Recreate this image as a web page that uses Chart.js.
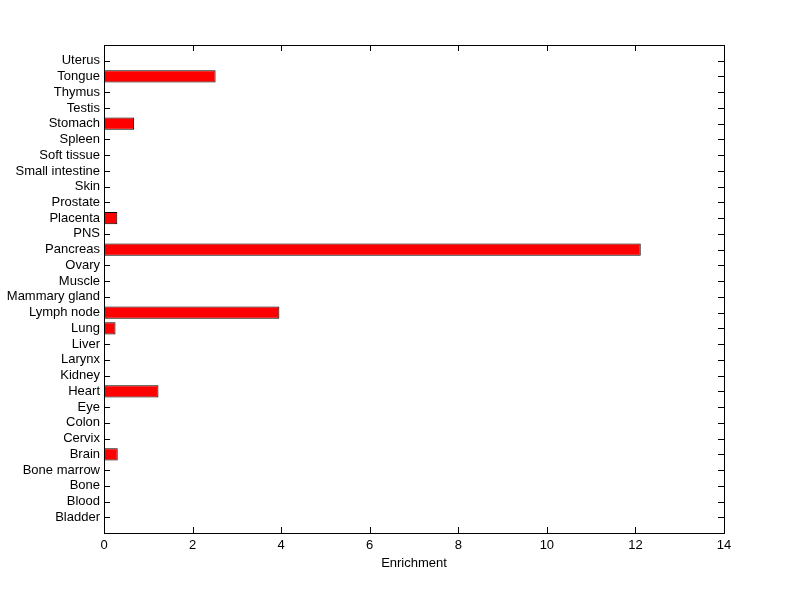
<!DOCTYPE html>
<html>
<head>
<meta charset="utf-8">
<script src="https://cdn.jsdelivr.net/npm/chart.js@4/dist/chart.umd.min.js"></script>
<style>
  html, body { margin: 0; padding: 0; background: #fff; }
  #wrap { width: 800px; height: 599px; position: relative; }
</style>
</head>
<body>
<div id="wrap"><canvas id="enrichChart"></canvas></div>
<script>
// Tissues, listed bottom to top as on the chart
const tissues = ['Bladder', 'Blood', 'Bone', 'Bone marrow', 'Brain', 'Cervix', 'Colon', 'Eye',
  'Heart', 'Kidney', 'Larynx', 'Liver', 'Lung', 'Lymph node', 'Mammary gland', 'Muscle',
  'Ovary', 'Pancreas', 'PNS', 'Placenta', 'Prostate', 'Skin', 'Small intestine',
  'Soft tissue', 'Spleen', 'Stomach', 'Testis', 'Thymus', 'Tongue', 'Uterus'];
const enrichment = [0, 0, 0, 0, 0.31, 0, 0, 0,
  1.23, 0, 0, 0, 0.26, 3.96, 0, 0,
  0, 12.12, 0, 0.30, 0, 0, 0,
  0, 0, 0.68, 0, 0, 2.52, 0];
const xTicks = [0, 2, 4, 6, 8, 10, 12, 14];

const fontFamily = "'Liberation Sans', Arial, Helvetica, sans-serif";

// MATLAB-style inward ticks (behind the bars) and axes box (on top)
const boxTicks = {
  id: 'boxTicks',
  beforeDatasetsDraw(chart) {
    const ctx = chart.ctx;
    const a = chart.chartArea;
    const xs = chart.scales.x;
    const ys = chart.scales.y;
    const len = 6;
    ctx.save();
    ctx.strokeStyle = '#000';
    ctx.lineWidth = 1;
    ctx.beginPath();
    xs.ticks.forEach(t => {
      const px = Math.round(xs.getPixelForValue(t.value)) + 0.5;
      ctx.moveTo(px, a.bottom); ctx.lineTo(px, a.bottom - len);
      ctx.moveTo(px, a.top); ctx.lineTo(px, a.top + len);
    });
    ys.ticks.forEach(t => {
      if (t.value < 1 || t.value > tissues.length) return;
      const py = Math.round(ys.getPixelForValue(t.value)) + 0.5;
      ctx.moveTo(a.left, py); ctx.lineTo(a.left + len, py);
      ctx.moveTo(a.right, py); ctx.lineTo(a.right - len, py);
    });
    ctx.stroke();
    ctx.restore();
  },
  afterDatasetsDraw(chart) {
    const ctx = chart.ctx;
    const a = chart.chartArea;
    ctx.save();
    ctx.strokeStyle = '#000';
    ctx.lineWidth = 1;
    ctx.strokeRect(Math.round(a.left) + 0.5, Math.round(a.top) + 0.5,
      Math.round(a.right - a.left), Math.round(a.bottom - a.top));
    ctx.restore();
  }
};

const points = tissues.map((name, i) => ({ x: enrichment[i], y: i + 1 }));

const config = {
  type: 'bar',
  data: {
    datasets: [{
      data: points,
      backgroundColor: '#ff0000',
      borderColor: '#000000',
      borderWidth: 1,
      borderSkipped: false,
      barPercentage: 1,
      categoryPercentage: 0.78
    }]
  },
  options: {
    indexAxis: 'y',
    responsive: true,
    maintainAspectRatio: false,
    animation: false,
    layout: { padding: { left: 0, right: 76, top: 45, bottom: 0 } },
    plugins: {
      legend: { display: false },
      tooltip: { enabled: false }
    },
    scales: {
      x: {
        type: 'linear',
        min: 0,
        max: 14,
        afterBuildTicks: scale => { scale.ticks = xTicks.map(v => ({ value: v })); },
        grid: { display: false, drawTicks: false },
        border: { display: false },
        ticks: { color: '#000', font: { family: fontFamily, size: 13 }, padding: 5, maxRotation: 0 },
        title: {
          display: true,
          text: 'Enrichment',
          color: '#000',
          font: { family: fontFamily, size: 13 },
          padding: { top: 0, bottom: 28 }
        },
        afterFit: scale => { scale.height = 66; }
      },
      y: {
        type: 'linear',
        offset: false,
        min: 0,
        max: tissues.length + 1,
        afterBuildTicks: scale => {
          scale.ticks = tissues.map((n, i) => ({ value: i + 1 }));
        },
        grid: { display: false, drawTicks: false, offset: false },
        border: { display: false },
        ticks: {
          color: '#000',
          font: { family: fontFamily, size: 13 },
          padding: 4,
          autoSkip: false,
          callback: v => tissues[v - 1] || ''
        },
        afterFit: scale => { scale.width = 104; }
      }
    }
  },
  plugins: [boxTicks]
};

document.addEventListener('DOMContentLoaded', () => {
  new Chart(document.getElementById('enrichChart'), config);
});
</script>
</body>
</html>
